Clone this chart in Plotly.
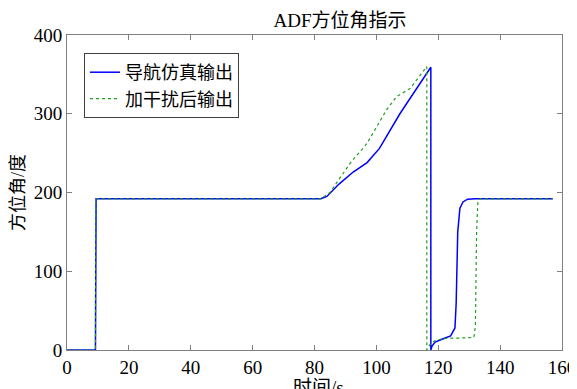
import plotly.graph_objects as go

# Navigation simulation output (blue)
t_nav = [0, 9.2, 9.4, 82, 84, 88, 92.5, 97, 101, 104, 107.6, 112, 117.6, 117.6, 118, 119, 120.5, 122, 124,
         125.4, 125.8, 126.3, 127, 128, 129.5, 132, 157]
y_nav = [0, 0, 192, 192, 195, 211, 226, 238, 256, 276, 300, 326, 359, 0, 5, 10, 13, 15, 18,
         28, 60, 150, 180, 188, 191.5, 192, 192]

# Output with interference (green dotted)
t_dist = [0, 9.2, 9.3, 82, 85, 88, 91.5, 96.9, 100, 103.3, 106.6, 110.9, 116.3, 116.3, 117.5, 119, 121, 123,
          126, 131.5, 132, 132.4, 132.8, 133.5, 157]
y_dist = [0, 0, 192, 192, 200, 217, 237, 262, 282, 305, 322, 332, 360, 0, 8, 12, 14, 15,
          15, 16, 30, 150, 188, 192, 192]

x_ticks = [0, 20, 40, 60, 80, 100, 120, 140, 160]
y_ticks = [0, 100, 200, 300, 400]

FONT = "'Liberation Serif', 'Noto Sans CJK SC', serif"

# page body has an 8px default margin
W, H = 569, 381

fig = go.Figure()
fig.add_trace(go.Scatter(x=t_nav, y=y_nav, mode="lines", name="导航仿真输出",
                         line=dict(color="#0000ff", width=1.5)))
fig.add_trace(go.Scatter(x=t_dist, y=y_dist, mode="lines", name="加干扰后输出",
                         line=dict(color="#20a020", width=1.2, dash="dot")))

axis_common = dict(showgrid=False, zeroline=False, showline=True, linecolor="#808080", linewidth=1,
                   mirror="ticks", ticks="inside", ticklen=5, tickcolor="#808080", automargin=False,
                   tickfont=dict(family=FONT, size=19, color="#000000"))

fig.update_layout(
    width=W, height=H,
    margin=dict(l=59, r=15, t=27, b=39),
    paper_bgcolor="white", plot_bgcolor="white",
    title=dict(text="ADF方位角指示", x=(340 - 8) / W, xanchor="center", y=1 - (20 - 8) / H, yref="container",
               yanchor="middle", font=dict(family=FONT, size=19, color="#000000")),
    xaxis=dict(range=[0, 160], tickvals=x_ticks, **axis_common),
    yaxis=dict(range=[0, 400], tickvals=y_ticks, title=dict(text="方位角/度", standoff=10,
               font=dict(family=FONT, size=18, color="#000000")), **axis_common),
    legend=dict(x=(84 - 67) / 495, y=(350 - 53) / 315, xanchor="left", yanchor="top", bgcolor="white",
                bordercolor="#404040", borderwidth=1, itemwidth=30,
                font=dict(family=FONT, size=18, color="#000000"), tracegroupgap=0),
    showlegend=True,
)
fig.add_annotation(text="时间/s", xref="paper", yref="paper", x=(318 - 67) / 495, y=-25 / 315,
                   xanchor="center", yanchor="top", showarrow=False,
                   font=dict(family=FONT, size=19, color="#000000"))

fig.write_html("out.html")
